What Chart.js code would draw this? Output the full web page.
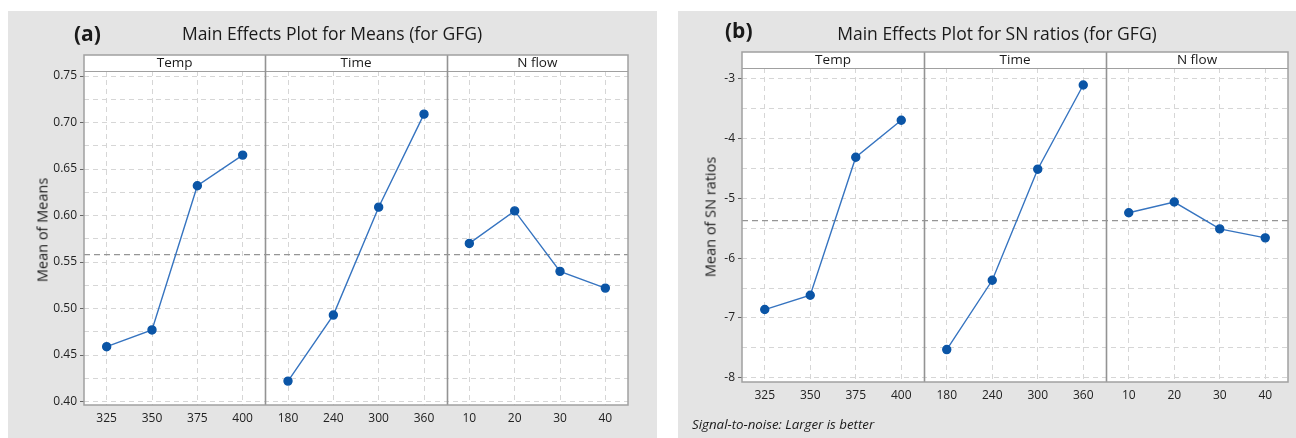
<!DOCTYPE html>
<html>
<head>
<meta charset="utf-8">
<script src="https://cdn.jsdelivr.net/npm/chart.js@4"></script>
<style>
  html, body { margin: 0; padding: 0; background: #fff; }
  body { width: 1296px; height: 438px; position: relative; overflow: hidden; font-family: "Open Sans", "Noto Sans", sans-serif; color: #1a1a1a; }
  .panel { position: absolute; background: #e4e4e4; }
  .panel canvas { position: absolute; left: 0; top: 0; }
  .txt { position: absolute; white-space: nowrap; transform: translate(0, -50%); }
  .ctr { transform: translate(-50%, -50%); }
  .tag { font-weight: bold; font-size: 21px; }
  .main { font-size: 17.5px; }
  .ytitle { font-size: 14.5px; transform: translate(-50%, -50%) rotate(-90deg); }
  .note { font-style: italic; font-size: 13.3px; }
</style>
</head>
<body>

<div class="panel" id="pa" style="left:8px; top:11px; width:649px; height:427px;">
  <canvas id="chartA" width="649" height="427"></canvas>
  <div class="txt tag" style="left:66px; top:22px;">(a)</div>
  <div class="txt ctr main" style="left:324px; top:22px;">Main Effects Plot for Means (for GFG)</div>
  <div class="txt ytitle" style="left:34px; top:219px;">Mean of Means</div>
</div>

<div class="panel" id="pb" style="left:678px; top:11px; width:618px; height:427px;">
  <canvas id="chartB" width="618" height="427"></canvas>
  <div class="txt tag" style="left:47px; top:19px;">(b)</div>
  <div class="txt ctr main" style="left:319px; top:22px;">Main Effects Plot for SN ratios (for GFG)</div>
  <div class="txt ytitle" style="left:32px; top:206px;">Mean of SN ratios</div>
  <div class="txt note" style="left:14px; top:413px;">Signal-to-noise: Larger is better</div>
</div>

<script>
// factor levels
const factorNames = ['Temp', 'Time', 'N flow'];
const tempLevels = ['325', '350', '375', '400'];
const timeLevels = ['180', '240', '300', '360'];
const nflowLevels = ['10', '20', '30', '40'];

// (a) means
const meansTemp = [0.459, 0.477, 0.632, 0.665];
const meansTime = [0.422, 0.493, 0.609, 0.709];
const meansNflow = [0.570, 0.605, 0.540, 0.522];
const meansGrand = 0.558;

// (b) SN ratios
const snTemp = [-6.86, -6.62, -4.31, -3.69];
const snTime = [-7.53, -6.37, -4.51, -3.10];
const snNflow = [-5.24, -5.06, -5.51, -5.66];
const snGrand = -5.37;

const levels = [tempLevels, timeLevels, nflowLevels];
const allLabels = [].concat(tempLevels, timeLevels, nflowLevels);

const LINE = '#3674c0';
const DOT = '#0b55a6';
const GRID = '#d6d6d6';
const FRAME = '#a0a0a0';

function padSeries(values, groupIdx) {
    // put one factor's values in its own block of the shared category axis
    const out = [];
    levels.forEach((lv, g) => {
        lv.forEach((_, i) => out.push(g === groupIdx ? values[i] : null));
    });
    return out;
}

function makeDatasets(series) {
    return series.map((vals, g) => ({
        label: factorNames[g],
        data: padSeries(vals, g),
        borderColor: LINE,
        borderWidth: 1.4,
        pointBackgroundColor: DOT,
        pointBorderColor: DOT,
        pointRadius: 4,
        spanGaps: false,
        tension: 0
    }));
}

// panels, headers, dividers and the grand mean line
const facetPlugin = {
    id: 'facets',
    beforeDraw(chart, args, opts) {
        const { ctx, chartArea: a } = chart;
        ctx.save();
        ctx.fillStyle = '#fff';
        ctx.fillRect(a.left, a.top - opts.header, a.right - a.left, a.bottom - a.top + opts.header);
        ctx.restore();
    },
    beforeDatasetsDraw(chart, args, opts) {
        const { ctx, chartArea: a, scales: { x, y } } = chart;
        const top = a.top - opts.header;
        ctx.save();

        // grand mean
        const gy = y.getPixelForValue(opts.grand);
        ctx.strokeStyle = '#959595';
        ctx.lineWidth = 1.2;
        ctx.setLineDash([6, 4]);
        ctx.beginPath();
        ctx.moveTo(a.left, gy);
        ctx.lineTo(a.right, gy);
        ctx.stroke();
        ctx.setLineDash([]);

        // header strip
        ctx.strokeStyle = FRAME;
        ctx.lineWidth = 1;
        ctx.beginPath();
        ctx.moveTo(a.left, a.top + 0.5);
        ctx.lineTo(a.right, a.top + 0.5);
        ctx.stroke();

        // dividers + header text
        ctx.font = '13.5px "Open Sans", sans-serif';
        ctx.fillStyle = '#1a1a1a';
        ctx.textAlign = 'center';
        ctx.textBaseline = 'middle';
        let idx = 0;
        levels.forEach((lv, g) => {
            const first = x.getPixelForValue(idx);
            const last = x.getPixelForValue(idx + lv.length - 1);
            ctx.fillText(factorNames[g], (first + last) / 2, top + opts.header / 2 + 0.5);
            idx += lv.length;
            if (g < levels.length - 1) {
                const bx = Math.round((last + x.getPixelForValue(idx)) / 2) + 0.5;
                ctx.strokeStyle = '#939393';
                ctx.lineWidth = 1.6;
                ctx.beginPath();
                ctx.moveTo(bx, top);
                ctx.lineTo(bx, a.bottom);
                ctx.stroke();
            }
        });

        // frame
        ctx.strokeStyle = FRAME;
        ctx.lineWidth = 1.5;
        ctx.strokeRect(a.left, top, a.right - a.left, a.bottom - top);
        ctx.restore();
    }
};

function buildChart(id, cfg) {
    const tickFont = { family: '"Open Sans", sans-serif', size: 12 };
    return new Chart(document.getElementById(id), {
        type: 'line',
        data: { labels: allLabels, datasets: makeDatasets(cfg.series) },
        options: {
            responsive: false,
            animation: false,
            layout: { padding: { left: 0, top: cfg.top, right: cfg.right, bottom: 0 } },
            plugins: {
                legend: { display: false },
                tooltip: { enabled: false },
                facets: { header: cfg.header, grand: cfg.grand }
            },
            scales: {
                x: {
                    type: 'category',
                    offset: true,
                    grid: { offset: false, color: GRID, drawTicks: false },
                    border: { display: false, dash: [5, 4] },
                    ticks: { padding: 6, font: tickFont, color: '#222', maxRotation: 0, autoSkip: false },
                    afterFit: s => { s.height = cfg.xHeight; }
                },
                y: {
                    min: cfg.min,
                    max: cfg.max,
                    grid: {
                        color: GRID,
                        tickLength: 4,
                        tickColor: c => cfg.isMajor(c.tick.value) ? '#666' : 'rgba(0,0,0,0)'
                    },
                    border: { display: false, dash: [5, 4] },
                    ticks: {
                        stepSize: cfg.step,
                        includeBounds: false,
                        padding: 3,
                        font: tickFont,
                        color: '#222',
                        callback: v => cfg.isMajor(v) ? cfg.fmt(v) : ''
                    },
                    afterFit: s => { s.width = cfg.yWidth; }
                }
            }
        },
        plugins: [facetPlugin]
    });
}

buildChart('chartA', {
    series: [meansTemp, meansTime, meansNflow],
    grand: meansGrand,
    min: 0.3963, max: 0.7554, step: 0.025,
    isMajor: v => Math.abs(v * 20 - Math.round(v * 20)) < 1e-6,
    fmt: v => v.toFixed(2),
    top: 60, header: 16, right: 29, yWidth: 76, xHeight: 33
});

buildChart('chartB', {
    series: [snTemp, snTime, snNflow],
    grand: snGrand,
    min: -8.073, max: -2.816, step: 0.5,
    isMajor: v => Math.abs(v - Math.round(v)) < 1e-6,
    fmt: v => String(Math.round(v)),
    top: 57, header: 16, right: 8, yWidth: 64, xHeight: 56
});
</script>
</body>
</html>
